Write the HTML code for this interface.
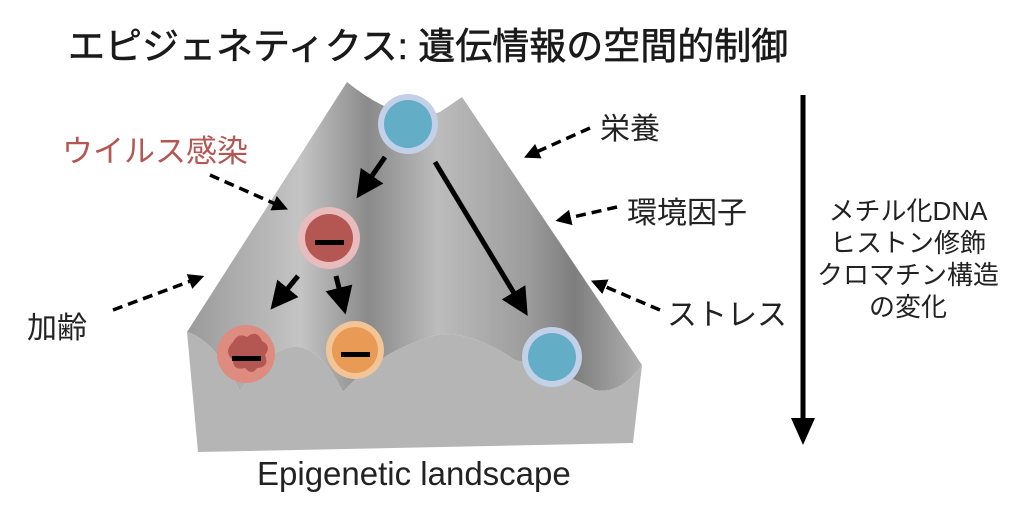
<!DOCTYPE html>
<html><head><meta charset="utf-8"><style>
body{margin:0;background:#fff;width:1024px;height:512px;overflow:hidden;position:relative;font-family:"Liberation Sans","Noto Sans CJK JP",sans-serif;color:#222}
.t{position:absolute;white-space:nowrap}
</style></head><body>
<svg width="1024" height="512" style="position:absolute;left:0;top:0">
<defs>
<linearGradient id="sl" x1="0" y1="0" x2="1" y2="0">
<stop offset="0" stop-color="#9a9a9a"/><stop offset="0.25" stop-color="#c4c4c4"/><stop offset="0.4" stop-color="#8a8a8a"/><stop offset="0.55" stop-color="#bcbcbc"/><stop offset="0.75" stop-color="#9c9c9c"/><stop offset="0.85" stop-color="#7e7e7e"/><stop offset="1" stop-color="#b0b0b0"/></linearGradient>
<marker id="ah" markerWidth="5.5" markerHeight="5.5" refX="2.5" refY="2.75" orient="auto" markerUnits="strokeWidth"><path d="M0,0 L5.5,2.75 L0,5.5z" fill="#000"/></marker>
<marker id="ad" markerWidth="4.5" markerHeight="4.5" refX="2" refY="2.25" orient="auto" markerUnits="strokeWidth"><path d="M0,0 L4.5,2.25 L0,4.5z" fill="#000"/></marker>
</defs>
<path d="M187,332 L347,82 Q400,125 440,112 L462,97 L642,365 Q620,395 595,390 Q560,370 515,360 Q470,330 437,335 Q380,350 343,392 Q320,345 293,347 Q265,350 240,392 Q215,340 187,332Z" fill="url(#sl)"/>
<path d="M187,332 Q215,340 240,392 Q265,350 293,347 Q320,345 343,392 Q380,350 437,335 Q470,330 515,360 Q560,370 595,390 Q620,395 642,365 L633,443 L198,452Z" fill="#b5b5b5"/>
<g stroke="#000" stroke-width="5" fill="none">
<line x1="385" y1="157" x2="365" y2="186" marker-end="url(#ah)"/>
<line x1="435" y1="162" x2="520" y2="303" marker-end="url(#ah)"/>
<line x1="298" y1="276" x2="280" y2="298" marker-end="url(#ah)"/>
<line x1="336" y1="276" x2="342" y2="300" marker-end="url(#ah)"/>
</g>
<g stroke="#000" stroke-width="3.5" fill="none" stroke-dasharray="10,6">
<line x1="590" y1="128" x2="532" y2="154" marker-end="url(#ad)"/>
<line x1="617" y1="207" x2="564" y2="219" marker-end="url(#ad)"/>
<line x1="660" y1="310" x2="599" y2="284" marker-end="url(#ad)"/>
<line x1="113" y1="310" x2="196" y2="279" marker-end="url(#ad)"/>
<line x1="210" y1="175" x2="280" y2="206" marker-end="url(#ad)"/>
</g>
<line x1="803" y1="95" x2="803" y2="422" stroke="#000" stroke-width="5"/>
<path d="M791,418 L815,418 L803,445Z" fill="#000"/>
<circle cx="408" cy="124" r="30" fill="#c2d0e8"/><circle cx="408" cy="124" r="24" fill="#64adc6"/>
<circle cx="552" cy="357" r="30" fill="#c2d0e8"/><circle cx="552" cy="357" r="24" fill="#64adc6"/>
<circle cx="329" cy="238" r="31" fill="#e8bcbc"/><circle cx="329" cy="238" r="24" fill="#b45652"/>
<rect x="315" y="240" width="29" height="5" fill="#000"/>
<circle cx="355" cy="350" r="29" fill="#f3c496"/><circle cx="355" cy="350" r="23" fill="#e99b55"/>
<rect x="341" y="352" width="29" height="5" fill="#000"/>
<circle cx="246" cy="354" r="29" fill="#de8b80"/>
<path d="M233,342 q5,-10 14,-5 q10,-8 15,4 q10,5 3,14 q5,12 -8,13 q-5,8 -12,0 q-12,3 -12,-8 q-10,-8 0,-18z" fill="#b45652"/>
<rect x="232" y="356" width="29" height="5" fill="#000"/>
</svg>
<div class="t" style="left:68px;top:16px;font-size:37px;-webkit-text-stroke:0.6px #1a1a1a;color:#1a1a1a">エピジェネティクス: 遺伝情報の空間的制御</div>
<div class="t" style="left:62px;top:126px;font-size:31px;color:#b45652">ウイルス感染</div>
<div class="t" style="left:600px;top:104px;font-size:30px">栄養</div>
<div class="t" style="left:627px;top:188px;font-size:30px">環境因子</div>
<div class="t" style="left:667px;top:290px;font-size:30px">ストレス</div>
<div class="t" style="left:27px;top:303px;font-size:30px">加齢</div>
<div class="t" style="left:808px;top:195px;width:200px;text-align:center;font-size:26px;line-height:32px">メチル化DNA<br>ヒストン修飾<br>クロマチン構造<br>の変化</div>
<div class="t" style="left:257px;top:455px;font-size:33px">Epigenetic landscape</div>
</body></html>
